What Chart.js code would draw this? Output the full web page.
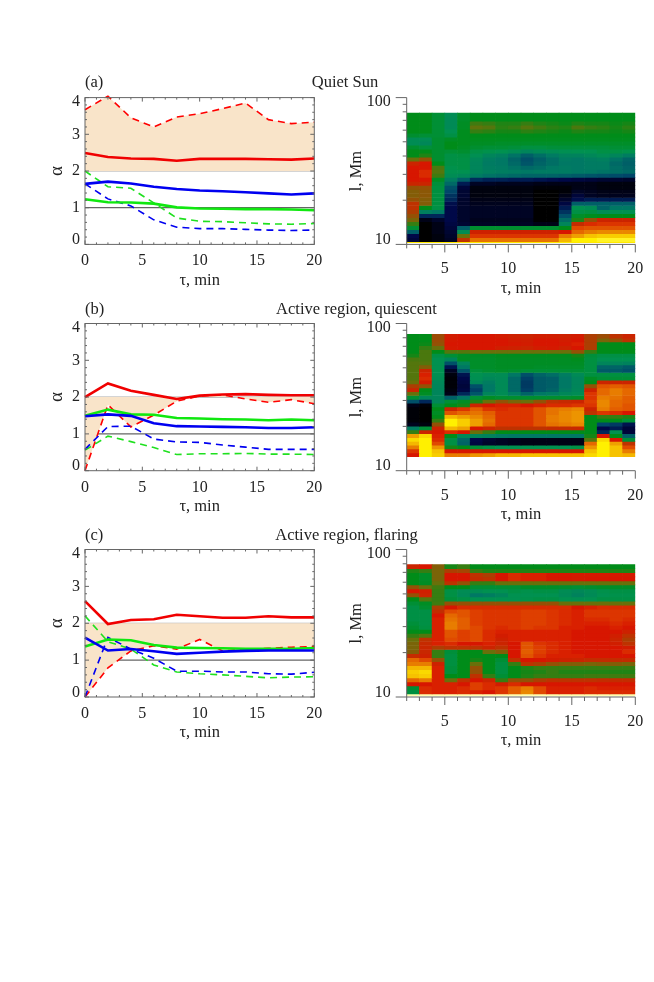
<!DOCTYPE html>
<html>
<head>
<meta charset="utf-8">
<script src="https://cdn.jsdelivr.net/npm/chart.js@4/dist/chart.umd.min.js"></script>
<style>
body { margin: 0; background: #fff; }
#page { position: relative; width: 654px; height: 982px; overflow: hidden; font-family: "Liberation Serif", serif; font-size: 16.5px; color: #222; filter: blur(0.45px); }
#page canvas { position: absolute; }
.lbl { position: absolute; white-space: nowrap; line-height: 18px; }
</style>
</head>
<body>
<div id="page"></div>
<script>
// time lags of the alpha curves
const tau = [0, 2, 4, 6, 8, 10, 12, 14, 16, 18, 20];
const alphaTicks = [0, 1, 2, 3, 4];
const tauTicks = [0, 5, 10, 15, 20];
const heatTauTicks = [5, 10, 15, 20];
const lTicks = [10, 100];
const lMinorTicks = [20, 30, 40, 50, 60, 70, 80, 90];
const refOne = [1, 1, 1, 1, 1, 1, 1, 1, 1, 1, 1];
const refTwo = [2, 2, 2, 2, 2, 2, 2, 2, 2, 2, 2];

// (a) Quiet Sun
const redSolidA = [2.49, 2.38, 2.34, 2.33, 2.28, 2.33, 2.33, 2.33, 2.32, 2.31, 2.34];
const redDashA = [3.67, 4.04, 3.45, 3.2, 3.47, 3.56, 3.7, 3.85, 3.4, 3.29, 3.33];
const blueSolidA = [1.65, 1.71, 1.66, 1.57, 1.51, 1.47, 1.45, 1.42, 1.39, 1.36, 1.39];
const blueDashA = [1.65, 1.24, 1.05, 0.67, 0.47, 0.43, 0.43, 0.41, 0.39, 0.38, 0.39];
const greenSolidA = [1.23, 1.15, 1.14, 1.11, 1.01, 0.98, 0.97, 0.96, 0.96, 0.95, 0.93];
const greenDashA = [2.0, 1.57, 1.53, 1.13, 0.72, 0.63, 0.62, 0.59, 0.56, 0.55, 0.57];

// (b) Active region, quiescent
const redSolidB = [2.0, 2.37, 2.17, 2.06, 1.95, 2.04, 2.07, 2.08, 2.06, 2.05, 2.05];
const redDashB = [0, 1.79, 1.19, 1.51, 1.89, 2.03, 2.06, 1.95, 1.86, 1.93, 1.82];
const blueSolidB = [1.48, 1.53, 1.49, 1.29, 1.21, 1.2, 1.19, 1.18, 1.16, 1.16, 1.18];
const blueDashB = [0.58, 1.2, 1.21, 0.86, 0.78, 0.77, 0.7, 0.64, 0.58, 0.58, 0.58];
const greenSolidB = [1.49, 1.66, 1.53, 1.52, 1.43, 1.42, 1.4, 1.39, 1.37, 1.39, 1.37];
const greenDashB = [0.56, 0.94, 0.79, 0.63, 0.44, 0.46, 0.46, 0.47, 0.45, 0.45, 0.44];

// (c) Active region, flaring
const redSolidC = [2.6, 1.98, 2.09, 2.11, 2.23, 2.19, 2.15, 2.15, 2.19, 2.16, 2.16];
const redDashC = [0, 0.79, 1.25, 1.39, 1.3, 1.56, 1.25, 1.29, 1.32, 1.35, 1.37];
const blueSolidC = [1.61, 1.26, 1.3, 1.24, 1.17, 1.2, 1.23, 1.25, 1.26, 1.26, 1.26];
const blueDashC = [0, 1.62, 1.3, 1.05, 0.7, 0.7, 0.68, 0.68, 0.63, 0.62, 0.67];
const greenSolidC = [1.37, 1.56, 1.54, 1.41, 1.34, 1.33, 1.32, 1.31, 1.31, 1.31, 1.33];
const greenDashC = [2.2, 1.5, 1.3, 0.87, 0.68, 0.63, 0.6, 0.56, 0.52, 0.54, 0.55];

// heat map columns, tau bin centres
const heatTau = [2.5, 3.5, 4.5, 5.5, 6.5, 7.5, 8.5, 9.5, 10.5, 11.5, 12.5, 13.5, 14.5, 15.5, 16.5, 17.5, 18.5, 19.5];

// colour levels, one list per tau column, from the largest l down to the smallest
const heatA = [
  [5,5,5,5,5,4.6,3.8,3.8,4.6,5,5,6,7.5,8,8,8,8,7.5,6.5,6.3,6.3,6.5,7,7,6.8,6.5,6.2,5.5,4.5,2.5,1,0.8],
  [5,5,5,5,5,4.5,3.8,3.6,4.4,5,5.3,6.5,8,8,8.2,8.2,8,7.5,6.5,6.4,6.4,6.3,6.3,5,3.3,1.5,0.3,0,0,0,0,0],
  [4.5,4.5,4.5,4.5,4.5,4.5,4.6,4.6,4.6,4.6,4.6,4.6,5,5.7,5.8,5.6,4.8,4.4,4.3,4.3,4.3,4.3,4.3,4.2,3,1.5,0.6,0.3,0.3,0.3,0.2,0.2],
  [3.8,3.7,3.7,3.7,4,4.2,4.8,5,5,4.5,4.2,4.2,4.2,4.1,4,3.8,3.2,2.7,2.2,2,1.7,1.5,1.1,1,1,1,1,0.9,0.8,0.7,0.6,0.5],
  [4.7,4.7,4.8,4.8,4.9,4.9,4.9,4.9,4.8,4.6,4.3,4.2,4.2,4.2,4,3.6,2.5,1.3,0.8,0.7,0.7,0.6,0.6,0.6,0.6,0.6,0.6,0.7,2.5,3.8,6,7],
  [5,5,5.6,5.9,5.5,5,4.9,4.8,4.6,4.2,3.9,3.6,3.5,3.5,3.5,3.1,1.6,0.5,0.2,0.2,0.2,0.3,0.4,0.5,0.5,0.5,0.4,0.5,4.6,7.6,8.3,8.9],
  [5,5,5.5,5.8,5.4,5,4.9,4.8,4.5,4.1,3.5,3.2,3.1,3.2,3.3,2.9,1.4,0.5,0.2,0.2,0.2,0.3,0.4,0.5,0.5,0.5,0.4,0.5,4.6,7.6,8.3,8.9],
  [5,5,5.3,5.4,5.2,5,4.9,4.7,4.5,4,3.3,3,3,3.1,3.2,2.8,1.4,0.4,0.2,0.2,0.2,0.3,0.4,0.5,0.5,0.5,0.4,0.5,4.6,7.6,8.3,8.9],
  [5,5,5.3,5.5,5.2,5,4.9,4.7,4.4,3.8,2.9,2.6,2.7,2.9,3.1,2.7,1.3,0.4,0.2,0.2,0.2,0.3,0.4,0.5,0.5,0.5,0.4,0.5,4.6,7.6,8.3,8.9],
  [5,5,5.5,5.8,5.4,5,4.9,4.7,4.3,3.5,2.5,2.2,2.3,2.7,3,2.6,1.3,0.4,0.2,0.2,0.2,0.3,0.4,0.5,0.5,0.5,0.4,0.5,4.6,7.6,8.3,8.9],
  [5,5,5.3,5.6,5.3,5,4.9,4.7,4.3,3.7,2.8,2.5,2.6,2.8,3.1,2.6,1.2,0.3,0.1,0,0,0,0,0,0,0,0,0.3,4.6,7.6,8.3,8.9],
  [5,5,5.2,5.4,5.2,5,4.9,4.7,4.4,3.8,3.1,2.8,2.8,3,3.1,2.6,1.1,0.3,0.1,0,0,0,0,0,0,0,0,0.3,4.6,7.6,8.3,8.9],
  [5,5,5.1,5.3,5.1,5,4.9,4.7,4.4,3.9,3.4,3.1,3,3.1,3.1,2.5,1,0.3,0.1,0.1,0.3,0.6,0.9,1.3,1.7,2.2,2.8,3.5,5,8,9,9.5],
  [5,5,5.3,5.7,5.3,5,4.9,4.7,4.4,4,3.4,3,3,3,3,2.4,0.9,0.3,0.3,0.5,0.8,1.1,2.5,4,4.2,4.7,5.3,7.2,8.5,8.8,9.3,10],
  [5,5,5.2,5.5,5.2,5,4.9,4.7,4.4,4,3.6,3.2,3.1,3.1,3,2.3,0.8,0.3,0.3,0.4,0.5,1.3,2.5,3.8,4.3,4.9,6.5,8.2,8.6,9,9.6,10],
  [5,5,5.2,5.4,5.2,5,4.9,4.7,4.4,4.2,3.8,3.3,3.1,3.1,2.9,2.2,0.7,0.2,0.2,0.3,0.4,1.3,2.5,2.6,3.8,5,7.5,8.3,8.6,9.1,9.7,10.2],
  [5,5,5.1,5.2,5.1,5,4.9,4.7,4.5,4.2,3.5,2.9,2.7,2.8,2.8,2.1,0.7,0.2,0.2,0.3,0.4,1.3,2.5,3,4,5,7.5,8.3,8.6,9.1,9.7,10.2],
  [5,5,5.2,5.4,5.2,5,4.9,4.7,4.5,4.1,3.2,2.6,2.5,2.6,2.7,2,0.6,0.2,0.2,0.3,0.4,1.3,2.5,3,4,5,7.5,8.3,8.6,9.1,9.7,10.2]
];
const heatB = [
  [5,5,5,5,5,5.2,5.7,5.8,5.8,5.8,5.8,5.8,6,6.8,7.5,6,4.5,2.2,0.3,0.1,0.1,0.1,0.1,0.4,3.2,5.5,9.3,9.8,9.5,9,8.3,8],
  [5,5,5.1,5.5,5.7,5.7,5.7,5.8,6.3,7.5,8.1,8.2,7.8,6.5,5,4.8,3.5,1.5,0.1,0,0,0,0,0.2,4.5,7.5,9.8,10,10,10,10,10],
  [6.6,6.6,6.5,6,5,4.2,4,4,4,4,3.9,3.8,3.6,3.5,3.5,3.5,3.5,3.6,4.5,5,4.8,5,5.5,6.5,7.5,8,8.1,8.2,8.5,9.2,9.6,9.7],
  [7.8,7.9,8,7.9,5.8,4.5,3.5,2.2,1.2,0.5,0.2,0.1,0.1,0.1,0.2,0.3,2.5,4.5,5,7.5,8.6,9.5,10,10,9.5,8.2,5,4.2,4.2,5.2,8,9],
  [8,8,8,8,5.8,4.8,4.8,3.5,3,2.3,1.2,1,0.9,0.8,0.9,1.5,3,4.8,5.2,8.3,8.8,9.3,9.7,9.7,9.3,8,3.6,2.7,2.6,5,8,9],
  [8,8,8,8,6,4.8,4.7,4.7,4.7,4.4,4,3.9,3.6,2.2,1.9,2.3,4.5,5.3,7.5,8.7,8.9,9.1,9.3,9.3,8,6,3.5,1,0.9,4.5,8,9.2],
  [8,8,8,8,6,4.8,4.7,4.7,4.7,4.6,3.8,3.6,3.2,3,3,3.5,4.8,6,8,8.3,8.7,8.8,8.9,8.8,7.5,5.5,3.4,0.7,0.6,4.2,8,9.3],
  [7.8,8,8,7.7,6,4.9,4.8,4.8,4.8,4.7,3.8,3.7,3.7,3.7,3.7,3.8,4.6,6.5,8.1,8.2,8.3,8.3,8.3,8.3,7,5,3.1,0.5,0.5,4,8,9.5],
  [7.6,7.8,7.9,7.6,6,4.9,4.8,4.8,4.8,4.6,3,2.7,2.7,2.7,2.7,3.2,4.6,6.2,8.1,8.3,8.3,8.3,8.3,8.3,7,5,3,0.4,0.4,4,8,9.5],
  [7.5,7.7,7.8,7.5,6,4.9,4.8,4.8,4.8,4.5,2.2,1.9,1.8,1.8,1.9,2.6,4.6,6,8,8.3,8.3,8.3,8.3,8.3,7,5,3,0.3,0.3,4,8,9.6],
  [7.7,8,8,7.8,6,4.9,4.8,4.8,4.7,4.5,2.6,2.4,2.4,2.4,2.4,3,4.6,6.5,8.1,8.6,8.6,8.6,8.6,8.6,7,5,3,0.3,0.3,4,8,9.6],
  [7.7,8,8,7.9,6,4.9,4.8,4.8,4.7,4.5,2.8,2.5,2.5,2.5,2.6,3.2,4.6,7,8.2,8.9,8.9,9,9,8.9,7.2,5,3,0.3,0.3,4,8,9.6],
  [7.6,7.8,7.9,7.6,6,4.9,4.8,4.8,4.7,4.5,3.2,3,3,3,3.2,3.6,4.6,7.3,8.2,9,9.1,9.1,9.1,9,7.2,5,3,0.3,0.3,4,8,9.6],
  [7.8,8,8.1,8,6.5,5.2,4.9,4.8,4.7,4.5,3.7,3.5,3.5,3.5,3.6,3.8,4.7,7.5,8.3,9.1,9.2,9.2,9.2,9.1,7.4,5,3,0.3,0.3,4.2,8,9.6],
  [6.8,6.8,6.8,6.8,5.5,4.4,4.3,4.3,4.3,4.3,4.3,4.8,5,6.5,7.6,8.3,8.3,8.4,8.3,7.5,7,5,5,5,5,5,5.2,5.8,8.8,9.2,9.6,9.8],
  [6.6,6.2,5,5,5,4.2,4,3.5,2.6,2.4,4.3,4.5,7.5,8.6,8.8,8.8,9,9.1,9.1,9,8.3,5.5,5,2,1,1.5,8,9.8,10,10,10,10],
  [7,6.5,5,5,5,4.2,4,3.5,2.6,2.4,4.3,4.5,7.5,8.7,9,9,8.9,8.8,8.8,8.7,8.2,5.5,5,1.8,1.3,4,5,8,9.3,9.6,9.6,9.6],
  [7.5,7,5,5,5,4.2,4,3.4,2.4,2.2,4.3,4.5,7.5,8.6,8.8,8.8,8.7,8.7,8.6,8.6,8,5.3,4.5,1.2,0.8,0.8,2.5,4.5,7,8.5,9,9.5]
];
const heatC = [
  [7.5,5.3,5,5,5,6.5,8,6.5,5,4.5,4.2,4.2,4.2,4.2,4.4,4.6,5,5.5,6,6.2,6.2,6.3,7.3,8.8,9,9.5,9.7,9.6,8.8,8,4.5,4.3],
  [8,5.5,4.7,4.7,4.8,6,7.7,7.5,5.8,4.8,4.6,4.2,4.2,4.2,4.2,4.3,5,5.8,7,7.3,7.4,7.4,7.6,8.5,9,9.5,9.8,9.7,9,8,8.2,8.2],
  [6.3,6.2,6.2,6.2,6,5.6,5.5,5.5,5.5,5.6,6.8,7.2,8,8.1,8.1,8.1,8.1,8.1,8.1,8.1,6.8,5.5,5.5,6.5,7.6,8.1,8.1,8.1,8.1,8.1,8.1,8.1],
  [5.2,6.8,8,8,7,5,4.2,4.2,4.4,6.5,8,8.5,8.8,8.9,9,9,8.6,8.6,8.5,8.2,7,4.4,4.3,4.3,4.3,4.4,4.4,5,6,8.1,8.1,8.1],
  [5.5,6.7,8,8,6.5,5,3.8,3.7,4.2,6.5,8.2,8.6,8.6,8.7,8.7,8.7,8.4,8.4,8.4,8,7,5,5,5,5,5,5,5,7,8,8.2,8.2],
  [5,5.5,7,7.2,5.5,4.5,3.8,3,4,6.5,8.2,8.4,8.4,8.4,8.4,8.5,8.5,8.5,8.5,8,7,5,5,5.2,6,6.5,6.5,7,8,8.4,8.4,8.1],
  [5,5.3,6.8,7,5.5,4.5,4,3.2,4,6.5,8.2,8.3,8.3,8.3,8.3,8.3,8.2,8.2,8.2,8.1,7.5,6,5,5,5,5,5,5.5,7.5,8.2,8.2,8],
  [5,5.3,8,8,6,4.5,4,3.5,4,6.5,8.2,8.3,8.3,8.3,8.3,8.2,8.1,7.8,7.6,7.5,7,6.3,5,4.5,4.3,4.3,4.3,4.5,5.5,7.8,8.3,8.3],
  [5,5.3,8.2,8.2,6,4.5,4.2,4,4,6.5,8.2,8.3,8.3,8.3,8.3,8.3,8.1,8.1,8.1,8,8,8,8,7,5.5,5,5,5,6.5,8.2,8.7,8.7],
  [5,5.3,8.1,8.1,6,4.7,4.1,4,4.1,6.5,8.2,8.4,8.4,8.4,8.4,8.4,8.1,8.1,8.1,8.6,8.6,8.7,8.6,8,7,5.3,5.2,5.3,6.5,8,9,9.1],
  [5,5.3,8.1,8.1,6,4.7,4.2,4,4.2,6.5,8.2,8.4,8.4,8.4,8.4,8.3,8.1,8.1,8.1,8.3,8.4,8.4,8.3,8,6.8,5.5,5.3,5.5,6.8,8,8.5,8.5],
  [5,5.3,8,8,6,4.7,4.2,4,4.2,6.5,8.2,8.3,8.3,8.3,8.3,8.3,8.1,8.1,8.1,8.2,8.2,8.2,8.1,7.8,6.5,5.5,5.5,5.5,7,8,8.1,8.1],
  [5,5.3,8,8,6,4.6,3.8,3.7,4,6,8.2,8.2,8.2,8.2,8.2,8.1,8.1,8.1,8.1,8.1,8.1,8.1,8.1,7.6,6.3,5.5,5.3,5.5,7,8,8.1,8.1],
  [5,5.3,7.9,7.9,6,4.5,3.6,3.4,3.9,6,8,8.1,8.1,8.1,8.1,8.1,8,8,8,8,8,8,8.1,7.5,6.3,5.5,5.3,5.5,7,8,8.1,8.1],
  [5,5.3,7.9,8,6,4.6,3.8,3.7,4,6,8.1,8.3,8.3,8.2,8.1,8,8,8,8,8,8,8,8,7.2,6.2,5.5,5.3,5.6,7,8,8.2,8.2],
  [5,5.3,7.9,8,6,4.7,4.1,4,4.2,6,8.2,8.3,8.3,8.2,8.1,8,8,8,8,8,8,8,8,7.2,6.3,5.5,5.3,5.6,7.2,8,8.1,8.2],
  [5,5.3,7.9,8,6,4.7,4.2,4.1,4.2,6,8.2,8.3,8.3,8.3,8.2,8.1,8,7.7,7.5,7.7,8,8,8,7.2,6.3,5.5,5.3,5.6,7.2,8,8.1,8.2],
  [5,5.3,7.9,8,6,4.7,4.2,4.1,4.2,6,8.2,8.3,8.3,8.2,8.1,8,7.6,7,6.8,7,7.8,8.2,8,7.2,6.2,5.5,5.3,5.6,7.2,8,8.1,8.2]
];
const heatStop = [
  [0, 0, 0], [0, 8, 72], [0, 70, 105], [0, 120, 100], [0, 145, 80], [0, 140, 25],
  [105, 112, 10], [190, 50, 0], [215, 22, 0], [232, 125, 0], [255, 240, 0], [255, 255, 190]
];

const fontFamily = '"Liberation Serif", serif';
const page = document.getElementById('page');

function heatColor(v) {
  const i = Math.min(Math.floor(v), heatStop.length - 2);
  const t = v - i;
  const c = heatStop[i].map((s, k) => Math.round(s + (heatStop[i + 1][k] - s) * t));
  return 'rgb(' + c.join(',') + ')';
}

function addLabel(text, x, y, center) {
  const d = document.createElement('div');
  d.className = 'lbl';
  d.textContent = text;
  d.style.left = x + 'px';
  d.style.top = y + 'px';
  if (center) d.style.transform = 'translateX(-50%)';
  page.appendChild(d);
}

function addCanvas(left, top, w, h) {
  const c = document.createElement('canvas');
  c.style.left = left + 'px';
  c.style.top = top + 'px';
  c.style.width = w + 'px';
  c.style.height = h + 'px';
  c.width = w;
  c.height = h;
  page.appendChild(c);
  return c;
}

// IDL style tick marks, the length is per tick so the grid options can't do it
const tickMarks = {
  id: 'tickMarks',
  afterDatasetsDraw(chart, args, o) {
    const { ctx, chartArea: a, scales } = chart;
    ctx.save();
    ctx.strokeStyle = '#666';
    ctx.lineWidth = 1;
    const line = (x1, y1, x2, y2) => {
      ctx.beginPath();
      ctx.moveTo(x1, y1);
      ctx.lineTo(x2, y2);
      ctx.stroke();
    };
    if (o.box) ctx.strokeRect(a.left, a.top, a.right - a.left, a.bottom - a.top);
    else {
      line(a.left, a.top, a.left, a.bottom);
      line(a.left, a.bottom, a.right, a.bottom);
    }
    const markX = (vals, len) => vals.forEach(v => {
      const x = scales.x.getPixelForValue(v);
      if (o.box) {
        line(x, a.bottom, x, a.bottom - len);
        line(x, a.top, x, a.top + len);
      } else line(x, a.bottom, x, a.bottom + len);
    });
    const markY = (vals, len) => vals.forEach(v => {
      const y = scales.y.getPixelForValue(v);
      if (o.box) {
        line(a.left, y, a.left + len, y);
        line(a.right, y, a.right - len, y);
      } else line(a.left, y, a.left - len, y);
    });
    markX(o.xMinor, o.minorLen);
    markX(o.xMajor, o.majorLen);
    markY(o.yMinor, o.minorLen);
    markY(o.yMajor, o.yMajorLen);
    ctx.restore();
  }
};

function alphaChart(areaTop, areaBottom, s) {
  const top = Math.floor(areaTop) - 20;
  const h = Math.ceil(areaBottom + 46) - top;
  const xh = h - (areaBottom - top);
  const canvas = addCanvas(40, top, 295, h);
  const points = vals => tau.map((t, i) => ({ x: t, y: vals[i] }));
  const solid = (vals, color, order) => ({ data: points(vals), borderColor: color, borderWidth: 2.6, pointRadius: 0, tension: 0, order: order, clip: false });
  const dash = (vals, color, order) => ({ data: points(vals), borderColor: color, borderWidth: 1.6, borderDash: [7, 5], pointRadius: 0, tension: 0, order: order, clip: false });
  new Chart(canvas, {
    type: 'line',
    data: {
      datasets: [
        { data: points(refOne), borderColor: '#666', borderWidth: 1.2, pointRadius: 0, order: 10 },
        { data: points(refTwo), borderColor: '#aaa', borderWidth: 1.2, pointRadius: 0, order: 9 },
        Object.assign(dash(s.redDash, '#f00', 8), { fill: { target: 1, above: '#f9e4c9', below: '#f9e4c9' } }),
        dash(s.greenDash, '#1fe01f', 7),
        dash(s.blueDash, '#0000f0', 6),
        solid(s.greenSolid, '#10e810', 5),
        solid(s.blueSolid, '#0000f0', 4),
        solid(s.redSolid, '#f00000', 3)
      ]
    },
    plugins: [tickMarks],
    options: {
      responsive: false,
      animation: false,
      layout: { padding: { top: areaTop - top, right: 20.7, left: 0, bottom: 0 } },
      plugins: {
        legend: { display: false },
        tooltip: { enabled: false },
        tickMarks: { box: true, xMajor: tauTicks, xMinor: [1, 2, 3, 4, 6, 7, 8, 9, 11, 12, 13, 14, 16, 17, 18, 19], yMajor: alphaTicks,
          yMinor: [0.2, 0.4, 0.6, 0.8, 1.2, 1.4, 1.6, 1.8, 2.2, 2.4, 2.6, 2.8, 3.2, 3.4, 3.6, 3.8], minorLen: 2, majorLen: 4, yMajorLen: 4 }
      },
      scales: {
        x: {
          type: 'linear', min: 0, max: 20,
          afterBuildTicks: sc => { sc.ticks = tauTicks.map(v => ({ value: v })); },
          afterFit: sc => { sc.height = xh; },
          grid: { display: false, drawTicks: false, tickLength: 0 }, border: { display: false },
          ticks: { maxRotation: 0, padding: 7, color: '#222', font: { family: fontFamily, size: 16 } },
          title: { display: true, text: 'τ, min', color: '#222', padding: { top: xh - 34.5 - 9.9, bottom: 0 }, font: { family: fontFamily, size: 16.5 } }
        },
        y: {
          min: 0, max: 4,
          afterBuildTicks: sc => { sc.ticks = alphaTicks.map(v => ({ value: v })); },
          afterFit: sc => { sc.width = 45; },
          grid: { display: false, drawTicks: false, tickLength: 0 }, border: { display: false },
          ticks: {
            padding: 5, color: '#222', font: { family: fontFamily, size: 16, lineHeight: 0.58 },
            callback: v => v === 0 ? ['0', ''] : v === 4 ? ['', '4'] : String(v)
          },
          title: { display: true, text: 'α', color: '#222', padding: { top: 6, bottom: 0 }, font: { family: fontFamily, size: 19 } }
        }
      }
    }
  });
}

function heatChart(areaTop, areaBottom, levels, lTop, lBottom, strip) {
  const top = Math.floor(areaTop) - 30;
  const h = Math.ceil(areaBottom + 54) - top;
  const xh = h - (areaBottom - top);
  const canvas = addCanvas(345, top, 320, h);
  const rows = levels[0].length;
  const ratio = Math.pow(lBottom / lTop, 1 / rows);
  const datasets = [];
  for (let r = 0; r < rows; r++) {
    const hi = lTop * Math.pow(ratio, r), lo = hi * ratio;
    datasets.push({
      data: heatTau.map(t => ({ x: t, y: [lo, hi] })),
      backgroundColor: levels.map(col => heatColor(col[r])),
      grouped: false, barPercentage: 1, categoryPercentage: 1, borderWidth: 0
    });
  }
  if (strip) {
    datasets.push({
      data: heatTau.map(t => ({ x: t, y: [strip[0], lBottom] })),
      backgroundColor: strip[1],
      grouped: false, barPercentage: 1, categoryPercentage: 1, borderWidth: 0
    });
  }
  new Chart(canvas, {
    type: 'bar',
    data: { datasets: datasets },
    plugins: [tickMarks],
    options: {
      responsive: false,
      animation: false,
      layout: { padding: { top: areaTop - top, right: 29.7, left: 0, bottom: 0 } },
      plugins: {
        legend: { display: false },
        tooltip: { enabled: false },
        tickMarks: { box: false, xMajor: heatTauTicks, xMinor: [2, 3, 4, 6, 7, 8, 9, 11, 12, 13, 14, 16, 17, 18, 19], yMajor: lTicks, yMinor: lMinorTicks, minorLen: 4, majorLen: 8, yMajorLen: 11 }
      },
      scales: {
        x: {
          type: 'linear', min: 2, max: 20, offset: false,
          afterBuildTicks: sc => { sc.ticks = heatTauTicks.map(v => ({ value: v })); },
          afterFit: sc => { sc.height = xh; },
          grid: { display: false, offset: false, drawTicks: false, tickLength: 0 }, border: { display: false },
          ticks: { maxRotation: 0, padding: 15, color: '#222', font: { family: fontFamily, size: 16 } },
          title: { display: true, text: 'τ, min', color: '#222', padding: { top: xh - 42 - 9.9, bottom: 0 }, font: { family: fontFamily, size: 16.5 } }
        },
        y: {
          type: 'logarithmic', min: 10, max: 100,
          afterBuildTicks: sc => { sc.ticks = lTicks.map(v => ({ value: v })); },
          afterFit: sc => { sc.width = 61.7; },
          grid: { display: false, drawTicks: false, tickLength: 0 }, border: { display: false },
          ticks: {
            padding: 16, color: '#222', font: { family: fontFamily, size: 16, lineHeight: 0.58 },
            callback: v => v === 10 ? ['10', ''] : ['', '100']
          },
          title: { display: true, text: 'l, Mm', color: '#222', padding: { top: 2, bottom: 0 }, font: { family: fontFamily, size: 16.5 } }
        }
      }
    }
  });
}

addLabel('(a)', 85, 73);
addLabel('Quiet Sun', 345, 73, true);
addLabel('(b)', 85, 300);
addLabel('Active region, quiescent', 356.5, 300, true);
addLabel('(c)', 85, 526);
addLabel('Active region, flaring', 346.5, 526, true);

alphaChart(97.6, 244.4, { redSolid: redSolidA, redDash: redDashA, blueSolid: blueSolidA, blueDash: blueDashA, greenSolid: greenSolidA, greenDash: greenDashA });
alphaChart(323.5, 470.7, { redSolid: redSolidB, redDash: redDashB, blueSolid: blueSolidB, blueDash: blueDashB, greenSolid: greenSolidB, greenDash: greenDashB });
alphaChart(549.5, 697, { redSolid: redSolidC, redDash: redDashC, blueSolid: blueSolidC, blueDash: blueDashC, greenSolid: greenSolidC, greenDash: greenDashC });

heatChart(97.6, 244.4, heatA, 78.5, 10.43, [10.27, '#ffe800']);
heatChart(323.5, 470.7, heatB, 84.5, 12.45, null);
heatChart(549.5, 697, heatC, 78.9, 10.48, [10.16, '#ffffb0']);
</script>
</body>
</html>
